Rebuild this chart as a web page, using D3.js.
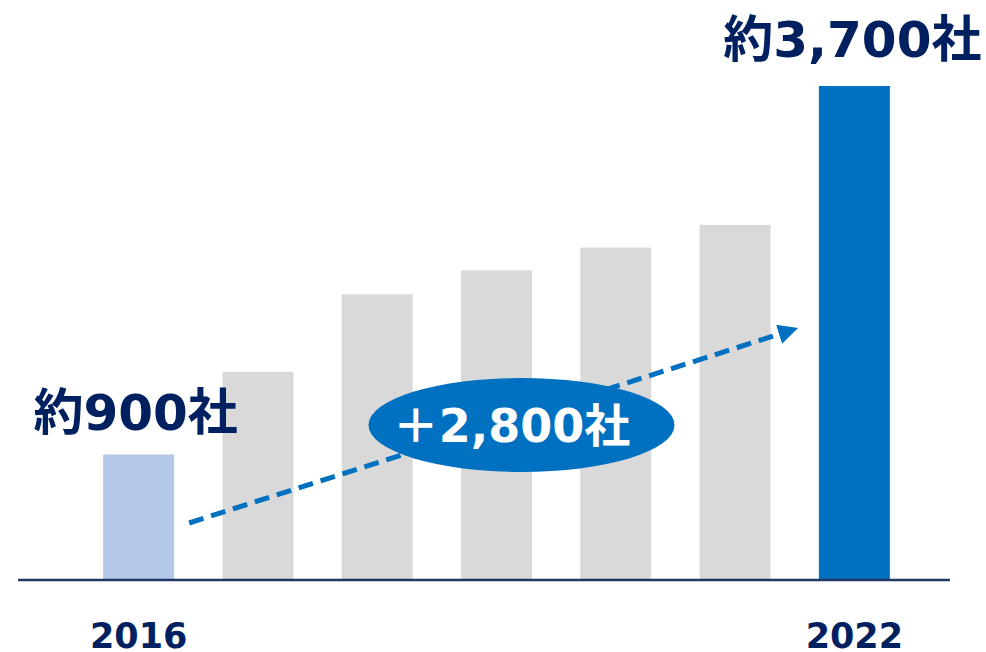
<!DOCTYPE html>
<html>
<head>
<meta charset="utf-8">
<script src="https://cdn.jsdelivr.net/npm/d3@7"></script>
<style>
  html, body { margin: 0; padding: 0; background: #fff; }
  svg { display: block; }
  text { font-family: "DejaVu Sans", "Noto Sans CJK JP", sans-serif; font-weight: bold; }
</style>
</head>
<body>
<div id="chart"></div>
<script>
// data
const years = ["2016", "2017", "2018", "2019", "2020", "2021", "2022"];
const companies = [940, 1560, 2140, 2320, 2490, 2660, 3700];
const tickLabels = ["2016", "", "", "", "", "", "2022"];
const firstLabel = "約900社";
const lastLabel = "約3,700社";
const growthLabel = "＋2,800社";

const width = 986, height = 652;
const baseY = 580;

const svg = d3.select("#chart").append("svg")
    .attr("width", width)
    .attr("height", height);

const x = d3.scaleBand()
    .domain(years)
    .range([79, 914])
    .paddingInner(0.405)
    .paddingOuter(0.2025);

const y = d3.scaleLinear()
    .domain([0, 3700])
    .range([baseY, 86]);

const barColor = (d, i) => i === 0 ? "#B4C7E7" : (i === years.length - 1 ? "#0070C0" : "#D9D9D9");

svg.selectAll(".bar")
    .data(years)
    .join("rect")
    .attr("class", "bar")
    .attr("x", d => x(d))
    .attr("width", x.bandwidth())
    .attr("y", (d, i) => y(companies[i]))
    .attr("height", (d, i) => baseY - y(companies[i]))
    .attr("fill", barColor);

// baseline + year labels
const axis = d3.axisBottom(x)
    .tickSize(0)
    .tickFormat((d, i) => tickLabels[i]);

const axisG = svg.append("g")
    .attr("transform", `translate(0,${baseY})`)
    .call(axis);
axisG.select(".domain").remove();
axisG.selectAll("text")
    .attr("y", 68)
    .attr("dy", 0)
    .attr("fill", "#002060")
    .style("font-size", "35px")
    .style("font-family", "'DejaVu Sans', sans-serif");

svg.append("line")
    .attr("x1", 18).attr("x2", 950)
    .attr("y1", baseY).attr("y2", baseY)
    .attr("stroke", "#1F3864")
    .attr("stroke-width", 2.5);

// dashed arrow
svg.append("defs").append("marker")
    .attr("id", "head")
    .attr("viewBox", "0 0 10 10")
    .attr("refX", 2).attr("refY", 5)
    .attr("markerWidth", 4).attr("markerHeight", 4)
    .attr("orient", "auto")
    .append("path")
    .attr("d", "M0,0 L10,5 L0,10 Z")
    .attr("fill", "#0070C0");

const ax1 = x("2016") + x.bandwidth() + 15, ay1 = 523;
const ax2 = x("2022") - 36, ay2 = 333;
svg.append("line")
    .attr("x1", ax1).attr("y1", ay1)
    .attr("x2", ax2).attr("y2", ay2)
    .attr("stroke", "#0070C0")
    .attr("stroke-width", 5)
    .attr("stroke-dasharray", "15,8")
    .attr("marker-end", "url(#head)");

// growth bubble
const cx = x("2019") + x.bandwidth() / 2 + 25, cy = 425;
svg.append("ellipse")
    .attr("cx", cx).attr("cy", cy)
    .attr("rx", 153).attr("ry", 47)
    .attr("fill", "#0070C0");
svg.append("text")
    .attr("x", cx - 10).attr("y", cy + 17)
    .attr("text-anchor", "middle")
    .attr("fill", "#fff")
    .style("font-size", "46px")
    .text(growthLabel);

// value labels
svg.append("text")
    .attr("x", x("2016") + x.bandwidth() / 2 - 3)
    .attr("y", 430)
    .attr("text-anchor", "middle")
    .attr("fill", "#002060")
    .style("font-size", "50px")
    .text(firstLabel);

svg.append("text")
    .attr("x", x("2022") + x.bandwidth() / 2 - 2)
    .attr("y", 57)
    .attr("text-anchor", "middle")
    .attr("fill", "#002060")
    .style("font-size", "50px")
    .text(lastLabel);
</script>
</body>
</html>
